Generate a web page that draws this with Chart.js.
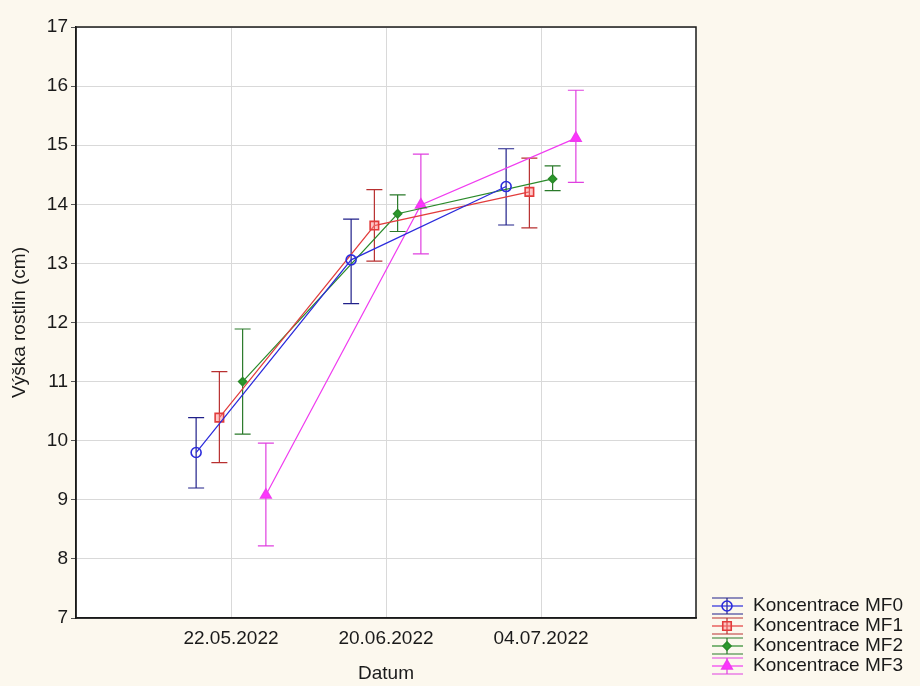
<!DOCTYPE html>
<html>
<head>
<meta charset="utf-8">
<script src="https://cdn.jsdelivr.net/npm/chart.js@4.4.1/dist/chart.umd.min.js"></script>
<style>
  html, body { margin: 0; padding: 0; background: #fcf8ee; }
  canvas { display: block; }
</style>
</head>
<body>
<canvas id="chart" width="920" height="686"></canvas>
<script>
const categories = ['22.05.2022', '20.06.2022', '04.07.2022'];
const seriesLabels = ['Koncentrace MF0', 'Koncentrace MF1', 'Koncentrace MF2', 'Koncentrace MF3'];

// mean and error bar ends
const mf0Mean = [9.80, 13.06, 14.30];
const mf0Low  = [9.20, 12.32, 13.65];
const mf0High = [10.39, 13.75, 14.94];

const mf1Mean = [10.39, 13.64, 14.21];
const mf1Low  = [9.63, 13.04, 13.60];
const mf1High = [11.17, 14.25, 14.78];

const mf2Mean = [11.00, 13.84, 14.43];
const mf2Low  = [10.11, 13.54, 14.23];
const mf2High = [11.89, 14.16, 14.65];

const mf3Mean = [9.08, 13.99, 15.12];
const mf3Low  = [8.22, 13.16, 14.37];
const mf3High = [9.96, 14.85, 15.93];

const yTicks = [7, 8, 9, 10, 11, 12, 13, 14, 15, 16, 17];

const FONT = "'Liberation Sans', Arial, sans-serif";
const dodge = [-0.225, -0.075, 0.075, 0.225];  // side-by-side shift of each series

const styles = [
  { line: '#2b2bdc', bar: '#20208a', point: 'circle',   radius: 5, fill: 'rgba(255,255,255,0)' },
  { line: '#e23c3c', bar: '#b83030', point: 'rect',     radius: 6, fill: 'rgba(255,130,130,0.45)' },
  { line: '#2a8a2a', bar: '#2a7a2a', point: 'rectRot',  radius: 4, fill: '#2a9a2a' },
  { line: '#f03cf0', bar: '#e040e0', point: 'triangle', radius: 6, fill: '#ff33ff' }
];

const means = [mf0Mean, mf1Mean, mf2Mean, mf3Mean];
const lows = [mf0Low, mf1Low, mf2Low, mf3Low];
const highs = [mf0High, mf1High, mf2High, mf3High];

const datasets = seriesLabels.map((label, s) => ({
  label: label,
  data: means[s].map((v, i) => ({ x: i + 1 + dodge[s], y: v })),
  low: lows[s],
  high: highs[s],
  borderColor: styles[s].line,
  borderWidth: 1.2,
  pointStyle: styles[s].point,
  pointRadius: styles[s].radius,
  pointBackgroundColor: styles[s].fill,
  pointBorderColor: styles[s].line,
  pointBorderWidth: 1.6,
  showLine: true,
  tension: 0,
  barColor: styles[s].bar
}));

const background = {
  id: 'background',
  beforeDraw(chart) {
    const { ctx, chartArea: a } = chart;
    ctx.save();
    ctx.fillStyle = '#fcf8ee';
    ctx.fillRect(0, 0, chart.width, chart.height);
    ctx.fillStyle = '#ffffff';
    ctx.fillRect(a.left, a.top, a.right - a.left, a.bottom - a.top);
    ctx.restore();
  },
  afterDraw(chart) {
    const { ctx, chartArea: a } = chart;
    ctx.save();
    ctx.strokeStyle = '#1a1a1a';
    ctx.lineWidth = 1.5;
    ctx.strokeRect(a.left, a.top, a.right - a.left, a.bottom - a.top);
    ctx.restore();
  }
};

const errorBars = {
  id: 'errorBars',
  beforeDatasetsDraw(chart) {
    const { ctx, scales } = chart;
    ctx.save();
    ctx.lineWidth = 1.2;
    chart.data.datasets.forEach((ds) => {
      ctx.strokeStyle = ds.barColor;
      ds.data.forEach((p, i) => {
        const x = scales.x.getPixelForValue(p.x);
        const yl = scales.y.getPixelForValue(ds.low[i]);
        const yh = scales.y.getPixelForValue(ds.high[i]);
        ctx.beginPath();
        ctx.moveTo(x, yl); ctx.lineTo(x, yh);
        ctx.moveTo(x - 8, yl); ctx.lineTo(x + 8, yl);
        ctx.moveTo(x - 8, yh); ctx.lineTo(x + 8, yh);
        ctx.stroke();
      });
    });
    ctx.restore();
  }
};

const legendBox = {
  id: 'legendBox',
  afterDraw(chart) {
    const { ctx } = chart;
    ctx.save();
    ctx.font = '19px ' + FONT;
    ctx.textBaseline = 'middle';
    ctx.textAlign = 'left';
    chart.data.datasets.forEach((ds, i) => {
      const y = 606 + i * 20;
      const cx = 727;
      ctx.lineWidth = 1.2;
      ctx.strokeStyle = ds.barColor;
      ctx.beginPath();
      ctx.moveTo(712, y - 8); ctx.lineTo(743, y - 8);
      ctx.moveTo(712, y + 8); ctx.lineTo(743, y + 8);
      ctx.moveTo(cx, y - 8); ctx.lineTo(cx, y + 8);
      ctx.stroke();
      ctx.strokeStyle = ds.borderColor;
      ctx.beginPath();
      ctx.moveTo(712, y); ctx.lineTo(743, y);
      ctx.stroke();
      ctx.fillStyle = ds.pointBackgroundColor;
      ctx.strokeStyle = ds.pointBorderColor;
      ctx.lineWidth = ds.pointBorderWidth;
      Chart.helpers.drawPoint(ctx, {
        pointStyle: ds.pointStyle,
        radius: ds.pointRadius,
        borderWidth: ds.pointBorderWidth
      }, cx, y);
      ctx.fillStyle = '#1a1a1a';
      ctx.fillText(ds.label, 753, y);
    });
    ctx.restore();
  }
};

new Chart(document.getElementById('chart'), {
  type: 'scatter',
  data: { datasets: datasets },
  plugins: [background, errorBars, legendBox],
  options: {
    responsive: false,
    animation: false,
    layout: { padding: { left: 8, right: 224, top: 27, bottom: 0 } },
    plugins: {
      legend: { display: false },
      tooltip: { enabled: false }
    },
    scales: {
      x: {
        type: 'linear',
        min: 0,
        max: 4,
        afterBuildTicks(scale) {
          scale.ticks = categories.map((c, i) => ({ value: i + 1 }));
        },
        afterFit(scale) { scale.height = 68; },
        ticks: {
          callback: (v) => categories[v - 1] || '',
          color: '#1a1a1a',
          font: { family: FONT, size: 19 },
          padding: 9,
          maxRotation: 0
        },
        grid: { color: '#d9d9d9', lineWidth: 1, drawTicks: false },
        border: { color: '#1a1a1a', width: 1.5 },
        title: {
          display: true,
          text: 'Datum',
          color: '#1a1a1a',
          font: { family: FONT, size: 19 },
          padding: { top: 0, bottom: 1 }
        }
      },
      y: {
        min: 7,
        max: 17,
        afterBuildTicks(scale) {
          scale.ticks = yTicks.map((v) => ({ value: v }));
        },
        afterFit(scale) { scale.width = 68; },
        ticks: {
          color: '#1a1a1a',
          font: { family: FONT, size: 19 },
          padding: 3
        },
        grid: { color: '#d9d9d9', lineWidth: 1, tickLength: 5, tickColor: '#555555' },
        border: { color: '#1a1a1a', width: 1.5 },
        title: {
          display: true,
          text: 'Výška rostlin (cm)',
          color: '#1a1a1a',
          font: { family: FONT, size: 19 },
          padding: { top: 0, bottom: 0 }
        }
      }
    }
  }
});
</script>
</body>
</html>
